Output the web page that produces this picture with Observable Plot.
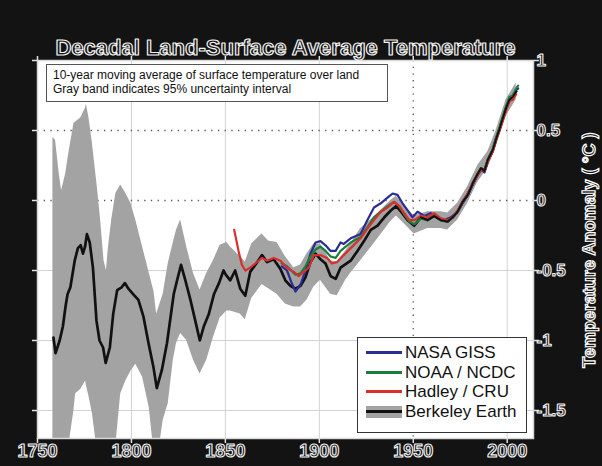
<!DOCTYPE html>
<html>
<head>
<meta charset="utf-8">
<script src="https://cdn.jsdelivr.net/npm/d3@7"></script>
<script src="https://cdn.jsdelivr.net/npm/@observablehq/plot@0.6"></script>
<style>
  html, body { margin: 0; padding: 0; background: #131313; }
  #wrap { position: relative; width: 602px; height: 466px; background: #131313; overflow: hidden; font-family: "Liberation Sans", Arial, sans-serif; }
  #wrap svg { position: absolute; left: 0; top: 0; }
  .note { position: absolute; left: 46px; top: 64px; width: 342px; height: 38px; background: #fff; border: 1px solid #555; box-sizing: border-box; font-size: 12px; line-height: 14px; color: #111; padding: 3px 0 0 6px; }
  .legend { position: absolute; left: 357px; top: 337px; width: 170px; height: 96px; background: #fff; border: 1.5px solid #333; box-sizing: border-box; padding-top: 5px; }
  .legend .row { position: relative; height: 19.5px; font-size: 17px; line-height: 19.5px; color: #111; padding-left: 47px; white-space: nowrap; }
  .legend .sw { position: absolute; left: 8px; top: 8px; width: 36px; height: 3px; }
  .legend .band { position: absolute; left: 8px; top: 4px; width: 36px; height: 12px; background: #a3a3a3; }
</style>
</head>
<body>
<div id="wrap">
  <div class="note">10-year moving average of surface temperature over land<br>Gray band indicates 95% uncertainty interval</div>
  <div class="legend" id="legend"></div>
</div>
<script>
// ---------- data ----------
const titleText = "Decadal Land-Surface Average Temperature";
const yLabelText = "Temperature Anomaly ( °C )";
const xTicks = [1750, 1800, 1850, 1900, 1950, 2000];
const yTicks = [1, 0.5, 0, -0.5, -1, -1.5];
const yTickLabels = ["1", "0.5", "0", "-0.5", "-1", "-1.5"];
const xGridSolid = [1800, 1850, 1900, 2000];
const xGridDotted = [1950];
const yGridSolid = [-0.5, -1, -1.5];
const yGridDotted = [0.5, 0];

const seriesNames = ["NASA GISS", "NOAA / NCDC", "Hadley / CRU", "Berkeley Earth"];
const seriesColors = ["#2c2c96", "#1b7d3c", "#d7302c", "#111111"];

// Berkeley Earth 10-year moving average
const berkYears = [1758.5,1759.6,1761.8,1763.5,1765,1766,1767.5,1769.8,1771.5,1773,1774.2,1775.3,1776.3,1777.8,1779.5,1781.4,1783,1784.9,1786.3,1788.5,1790.3,1792.4,1794.8,1796.5,1798.4,1801,1803.7,1806.4,1809.1,1811.7,1813.5,1816.2,1818.9,1822.5,1824.3,1826.4,1828.7,1831.4,1834,1836.4,1838.5,1841.2,1843.9,1846.6,1849,1850.2,1852.6,1855.2,1857.9,1860.6,1863.2,1865.9,1869.5,1872.2,1875.7,1879.3,1881.9,1884.6,1887.3,1890,1892.6,1895.3,1898,1900.6,1903.3,1906,1908.7,1911.3,1916.7,1920.3,1923.8,1927.4,1931,1934.6,1938.2,1940.9,1943.5,1947,1950.5,1954,1957.6,1961.1,1964.7,1968.3,1971,1973.6,1976.3,1979,1981.6,1984.3,1986.1,1987.9,1989.7,1992.3,1994.1,1995.9,1997.7,1999.4,2001.2,2003,2004.8];
const berkVals = [-0.98,-1.09,-1.0,-0.9,-0.75,-0.67,-0.62,-0.43,-0.34,-0.32,-0.38,-0.33,-0.24,-0.30,-0.48,-0.86,-1.0,-1.05,-1.16,-1.05,-0.81,-0.64,-0.62,-0.59,-0.63,-0.67,-0.71,-0.83,-1.02,-1.19,-1.34,-1.21,-1.02,-0.67,-0.57,-0.46,-0.57,-0.71,-0.86,-1.0,-0.9,-0.81,-0.67,-0.59,-0.5,-0.53,-0.57,-0.5,-0.63,-0.68,-0.51,-0.46,-0.39,-0.44,-0.42,-0.49,-0.57,-0.61,-0.63,-0.61,-0.55,-0.44,-0.38,-0.42,-0.45,-0.54,-0.56,-0.48,-0.43,-0.36,-0.29,-0.21,-0.18,-0.12,-0.07,-0.04,-0.08,-0.14,-0.18,-0.12,-0.14,-0.11,-0.14,-0.15,-0.12,-0.08,-0.01,0.04,0.12,0.19,0.23,0.21,0.29,0.36,0.44,0.51,0.59,0.66,0.72,0.74,0.78];

// 95% uncertainty band
const bandYears = [1758.2,1759.6,1761.4,1762.8,1765,1766.7,1769.4,1770.3,1773,1775.6,1776,1777.4,1779.2,1781.9,1783.6,1785.4,1786.7,1787.8,1789.5,1791.7,1794.3,1797,1799.7,1802.3,1805.9,1809.5,1812,1813.4,1816.9,1819.6,1822.3,1824,1826.2,1829.4,1833,1836.5,1840.1,1843.6,1847.2,1850.8,1852.6,1857.9,1860.6,1864,1869.5,1873,1877.5,1881.9,1886.4,1890,1893.5,1897,1900.6,1906,1909.5,1914,1916.7,1922,1929,1938,1941,1944,1950.5,1957.6,1964.7,1968.3,1973.6,1979,1984.3,1989.7,1994.1,1999.4,2004.8];
const bandHigh = [0.45,0.43,0.21,0.07,0.19,0.34,0.55,0.56,0.59,0.66,0.69,0.59,0.41,0.09,-0.14,-0.43,-0.5,-0.33,-0.14,0.05,0.11,0.05,-0.02,-0.14,-0.33,-0.52,-0.65,-0.81,-0.67,-0.45,-0.3,-0.21,-0.14,-0.33,-0.52,-0.64,-0.52,-0.43,-0.32,-0.3,-0.33,-0.4,-0.44,-0.31,-0.24,-0.29,-0.3,-0.4,-0.48,-0.46,-0.38,-0.31,-0.31,-0.43,-0.44,-0.36,-0.31,-0.2,-0.12,0.0,0.03,-0.02,-0.11,-0.08,-0.08,-0.09,-0.02,0.1,0.25,0.35,0.5,0.72,0.84];
const bandLow = [-1.9,-1.9,-1.9,-1.9,-1.9,-1.75,-1.5,-1.38,-1.35,-1.29,-1.32,-1.4,-1.52,-1.8,-1.9,-1.9,-1.9,-1.9,-1.9,-1.75,-1.38,-1.29,-1.22,-1.17,-1.26,-1.48,-1.8,-1.9,-1.57,-1.45,-1.14,-1.02,-0.95,-1.0,-1.14,-1.24,-1.14,-0.98,-0.84,-0.79,-0.79,-0.81,-0.85,-0.7,-0.6,-0.63,-0.67,-0.74,-0.76,-0.76,-0.71,-0.62,-0.57,-0.67,-0.68,-0.57,-0.52,-0.43,-0.31,-0.15,-0.11,-0.15,-0.24,-0.2,-0.2,-0.21,-0.14,-0.02,0.13,0.23,0.38,0.6,0.72];

// NASA GISS
const nasaYears = [1880,1882.8,1885,1887.3,1890,1892.6,1895.3,1898,1900.6,1903.3,1906,1908.7,1911.3,1913,1916.7,1922,1925.6,1929.1,1932.7,1936.3,1939,1941.6,1944.3,1947,1949.6,1952.3,1955.9,1959.4,1963,1966.6,1970,1973.6,1976.3,1979,1981.6,1984.3,1986.1,1987.9,1989.7,1992.3,1994.1,1995.9,1997.7,1999.4,2001.2,2003,2004.8,2005.8];
const nasaVals = [-0.47,-0.5,-0.58,-0.65,-0.6,-0.5,-0.38,-0.3,-0.29,-0.32,-0.36,-0.36,-0.3,-0.31,-0.27,-0.24,-0.14,-0.05,-0.02,0.02,0.05,0.04,-0.02,-0.07,-0.12,-0.08,-0.11,-0.09,-0.12,-0.14,-0.12,-0.08,-0.02,0.04,0.11,0.18,0.22,0.2,0.28,0.35,0.44,0.51,0.58,0.66,0.73,0.75,0.79,0.8];

// NOAA / NCDC
const noaaYears = [1880,1882.8,1885,1887.3,1890,1892.6,1895.3,1898,1900.6,1903.3,1906,1908.7,1911.3,1916.7,1922,1925.6,1929.1,1932.7,1936.3,1939.8,1942.5,1945.2,1947.9,1950.5,1954,1957.6,1961.1,1964.7,1968.3,1971,1973.6,1976.3,1979,1981.6,1984.3,1986.1,1987.9,1989.7,1992.3,1994.1,1995.9,1997.7,1999.4,2001.2,2003,2004.8,2005.8];
const noaaVals = [-0.45,-0.47,-0.5,-0.53,-0.52,-0.47,-0.4,-0.35,-0.33,-0.36,-0.4,-0.41,-0.36,-0.3,-0.26,-0.19,-0.12,-0.08,-0.04,-0.01,-0.04,-0.1,-0.15,-0.17,-0.13,-0.14,-0.1,-0.14,-0.15,-0.12,-0.08,-0.01,0.05,0.12,0.19,0.23,0.21,0.29,0.36,0.45,0.52,0.6,0.67,0.74,0.75,0.8,0.82];

// Hadley / CRU
const hadYears = [1854.7,1857,1858.8,1860.6,1863.2,1865.9,1869.5,1872.2,1875.7,1879.3,1882.8,1886.4,1889,1891.7,1894.4,1897,1900.6,1904.1,1906.7,1909.5,1913,1916.7,1922,1925.6,1929.1,1932.7,1936.3,1939.8,1942.5,1945.2,1947.9,1950.5,1954,1957.6,1961.1,1964.7,1968.3,1971,1973.6,1976.3,1979,1981.6,1984.3,1986.1,1987.9,1989.7,1992.3,1994.1,1995.9,1997.7,1999.4,2001.2,2003,2004.8];
const hadVals = [-0.21,-0.36,-0.46,-0.5,-0.48,-0.45,-0.41,-0.43,-0.41,-0.43,-0.48,-0.51,-0.54,-0.51,-0.48,-0.39,-0.39,-0.41,-0.45,-0.44,-0.39,-0.34,-0.27,-0.2,-0.14,-0.08,-0.05,-0.01,-0.04,-0.09,-0.14,-0.14,-0.11,-0.12,-0.09,-0.13,-0.14,-0.12,-0.07,-0.01,0.05,0.12,0.18,0.22,0.21,0.28,0.35,0.43,0.5,0.57,0.64,0.71,0.72,0.76];

// ---------- tables built from the arrays ----------
const toRows = (xs, ys) => xs.map((x, i) => ({year: x, value: ys[i]}));
const berk = toRows(berkYears, berkVals);
const nasa = toRows(nasaYears, nasaVals);
const noaa = toRows(noaaYears, noaaVals);
const had = toRows(hadYears, hadVals);
const band = bandYears.map((x, i) => ({year: x, lo: bandLow[i], hi: bandHigh[i]}));

const FONT = "Liberation Sans, Arial, sans-serif";
const outlined = {fill: "#141414", stroke: "#f2f2f2", strokeWidth: 1.1, paintOrder: "normal", fontFamily: FONT, fontWeight: "bold"};
const tickStyle = {tickFormat: () => "", label: null, stroke: "#e0e0e0", strokeWidth: 1.5, tickSize: 5};

const chart = Plot.plot({
  width: 602,
  height: 466,
  marginLeft: 37,
  marginRight: 69,
  marginTop: 60,
  marginBottom: 28,
  style: {background: "transparent", fontFamily: FONT},
  x: {domain: [1750, 2014], axis: null},
  y: {domain: [-1.7, 1], axis: null},
  marks: [
    Plot.frame({fill: "white", stroke: null}),
    Plot.ruleX(xGridSolid, {stroke: "#d2d2d2", strokeWidth: 1}),
    Plot.ruleY(yGridSolid, {stroke: "#d2d2d2", strokeWidth: 1}),
    Plot.ruleX(xGridDotted, {stroke: "#555", strokeWidth: 1.3, strokeDasharray: "1.3,5.4"}),
    Plot.ruleY(yGridDotted, {stroke: "#555", strokeWidth: 1.3, strokeDasharray: "1.3,5.4"}),
    Plot.areaY(band, {x: "year", y1: "lo", y2: "hi", fill: "#a3a3a3", clip: true}),
    Plot.line(berk, {x: "year", y: "value", stroke: seriesColors[3], strokeWidth: 2.7, clip: true}),
    Plot.line(nasa, {x: "year", y: "value", stroke: seriesColors[0], strokeWidth: 2.2, clip: true}),
    Plot.line(noaa, {x: "year", y: "value", stroke: seriesColors[1], strokeWidth: 2.2, clip: true}),
    Plot.line(had, {x: "year", y: "value", stroke: seriesColors[2], strokeWidth: 2.2, clip: true}),
    // recent decades: Berkeley line sits on top of the overlapping records
    Plot.line(berk, {filter: d => d.year >= 1952, x: "year", y: "value", stroke: seriesColors[3], strokeWidth: 1.8, clip: true}),
    Plot.frame({stroke: "#d8d8d8", strokeWidth: 1.5}),
    Plot.axisX({anchor: "bottom", ticks: xTicks, ...tickStyle}),
    Plot.axisX({anchor: "top", ticks: xTicks, ...tickStyle}),
    Plot.axisY({anchor: "right", ticks: yTicks, ...tickStyle}),
    Plot.axisY({anchor: "left", ticks: yTicks, ...tickStyle}),
    Plot.text(xTicks, {x: d => d, text: d => String(d), frameAnchor: "bottom", dy: 18, fontSize: 18, ...outlined}),
    Plot.text(yTicks, {y: d => d, text: (d, i) => yTickLabels[i], frameAnchor: "right", dx: 3, textAnchor: "start", fontSize: 17, ...outlined}),
    Plot.text([titleText], {text: d => d, frameAnchor: "top", dy: -21, fontSize: 22, ...outlined, strokeWidth: 1.2})
  ]
});

const wrap = document.getElementById("wrap");
wrap.insertBefore(chart, wrap.firstChild);

// rotated y-axis title, placed right of the tick labels
d3.select(chart).append("text")
  .attr("transform", "translate(589,250) rotate(-90)")
  .attr("text-anchor", "middle")
  .attr("dominant-baseline", "central")
  .attr("font-family", FONT)
  .attr("font-weight", "bold")
  .attr("font-size", 18)
  .attr("fill", "#141414")
  .attr("stroke", "#ffffff")
  .attr("stroke-width", 1.2)
  .attr("paint-order", "normal")
  .attr("text-rendering", "geometricPrecision")
  .text(yLabelText);

// legend
const legend = document.getElementById("legend");
seriesNames.forEach((name, i) => {
  const row = document.createElement("div");
  row.className = "row";
  if (i === 3) {
    const b = document.createElement("div");
    b.className = "band";
    row.appendChild(b);
  }
  const sw = document.createElement("div");
  sw.className = "sw";
  sw.style.background = seriesColors[i];
  row.appendChild(sw);
  row.appendChild(document.createTextNode(name));
  legend.appendChild(row);
});
</script>
</body>
</html>
